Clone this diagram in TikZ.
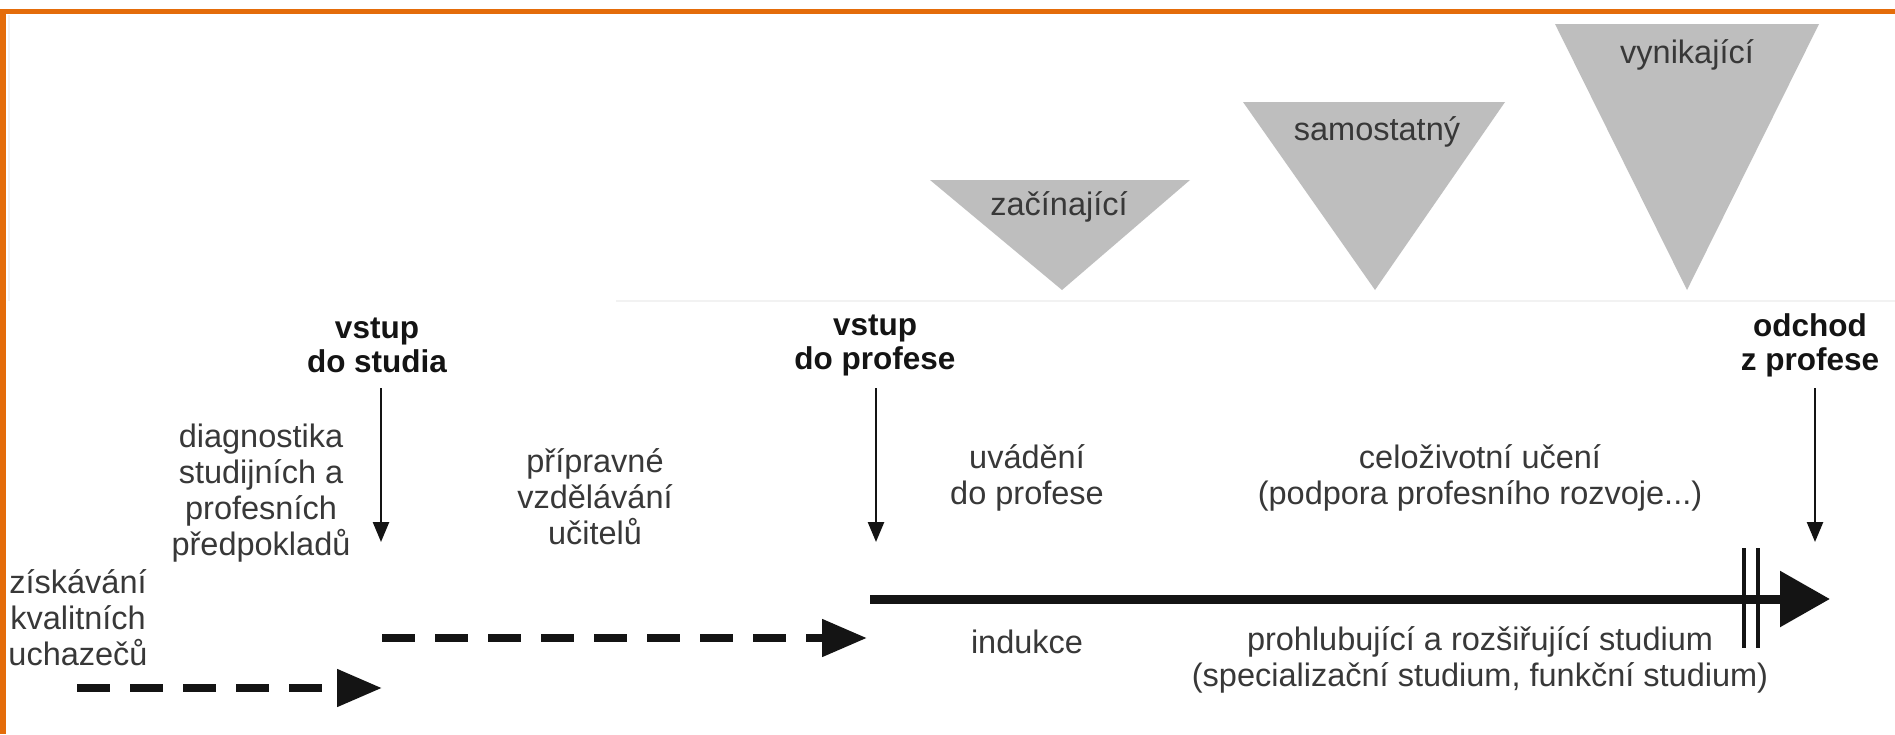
\documentclass[tikz,border=0pt]{standalone}
\usepackage{fontspec}
\setmainfont{Liberation Sans}
\usetikzlibrary{arrows.meta}
\definecolor{orng}{HTML}{E46C0A}
\definecolor{trigray}{HTML}{BEBEBE}
\definecolor{txt}{HTML}{383838}
\definecolor{ink}{HTML}{141414}
\begin{document}
\begin{tikzpicture}[x=1pt,y=-1pt,
  lbl/.style={text=txt, align=center, inner sep=0pt, font=\fontsize{32.5}{36}\selectfont},
  blbl/.style={text=ink, align=center, inner sep=0pt, font=\bfseries\fontsize{31.5}{34}\selectfont},
  downarr/.style={draw=ink, line width=2.5pt, -{Triangle[length=20pt,width=16pt]}},
  dasharr/.style={draw=ink, line width=8pt, dash pattern=on 33pt off 20pt, -{Triangle[length=45pt,width=36pt]}},
  mainarr/.style={draw=ink, line width=9pt, -{Triangle[length=50pt,width=54pt]}},
  tri/.style={fill=trigray},
  barline/.style={draw=ink, line width=4pt},
  faint/.style={draw=black!5, line width=1.5pt}]
\useasboundingbox (0,0) rectangle (1895,734);
\fill[white] (0,0) rectangle (1895,734);
% faint edges of the embedded top area
\draw[faint] (9,15) -- (9,301);
\draw[faint] (616,301) -- (1895,301);
% orange frame
\fill[orng] (0,9) rectangle (1895,14);
\fill[orng] (0,9) rectangle (6,734);
% triangles
\fill[tri] (930,180) -- (1190,180) -- (1062,290) -- cycle;
\fill[tri] (1243,102) -- (1505,102) -- (1375,290) -- cycle;
\fill[tri] (1555,24) -- (1819,24) -- (1687,290) -- cycle;
\node[lbl] (zac) at (1059,207) {začínající};
\node[lbl] (sam) at (1377,132) {samostatný};
\node[lbl] (vyn) at (1687,55) {vynikající};
% bold milestone labels
\node[blbl] (vs) at (377,345) {vstup\\do studia};
\node[blbl] (vp) at (875,345) {vstup\\do profese};
\node[blbl] (od) at (1810,345) {odchod\\z profese};
% down arrows
\coordinate (vs1) at (381,388);
\coordinate (vs2) at (381,542);
\coordinate (vp1) at (876,388);
\coordinate (vp2) at (876,542);
\coordinate (od1) at (1815,388);
\coordinate (od2) at (1815,542);
\draw[downarr] (vs1) -- (vs2);
\draw[downarr] (vp1) -- (vp2);
\draw[downarr] (od1) -- (od2);
% phase texts
\node[lbl] (diag) at (261,493) {diagnostika\\studijních a\\profesních\\předpokladů};
\node[lbl] (prip) at (595,497) {přípravné\\vzdělávání\\učitelů};
\node[lbl] (zisk) at (78,618) {získávání\\kvalitních\\uchazečů};
\node[lbl] (uvad) at (1027,478) {uvádění\\do profese};
\node[lbl] (celo) at (1480,478) {celoživotní učení\\(podpora profesního rozvoje...)};
\node[lbl] (ind) at (1027,642) {indukce};
\node[lbl] (proh) at (1480,660) {prohlubující a rozšiřující studium\\(specializační studium, funkční studium)};
% timeline arrows
\coordinate (d1a) at (77,688);
\coordinate (d1b) at (382,688);
\coordinate (d2a) at (382,638);
\coordinate (d2b) at (867,638);
\coordinate (m1) at (870,599);
\coordinate (m2) at (1830,599);
\draw[dasharr] (d1a) -- (d1b);
\draw[dasharr] (d2a) -- (d2b);
\draw[mainarr] (m1) -- (m2);
% double bar
\coordinate (b1a) at (1744,548);
\coordinate (b1b) at (1744,648);
\coordinate (b2a) at (1758,548);
\coordinate (b2b) at (1758,648);
\draw[barline] (b1a) -- (b1b);
\draw[barline] (b2a) -- (b2b);
\end{tikzpicture}
\end{document}
